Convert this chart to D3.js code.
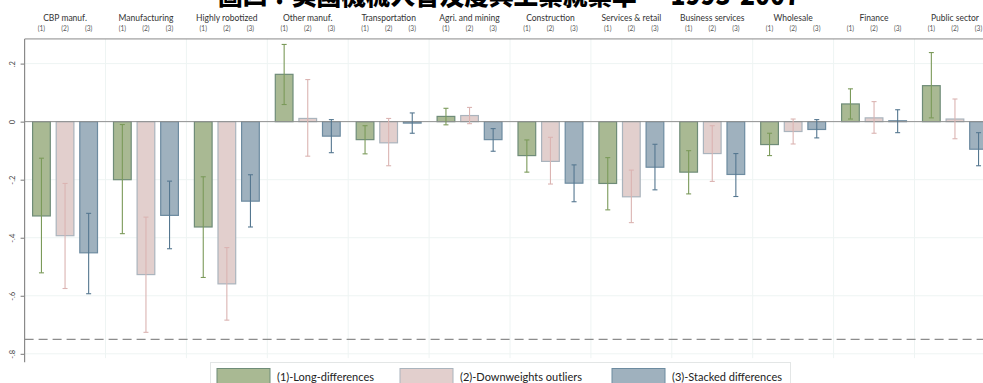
<!DOCTYPE html>
<html>
<head>
<meta charset="utf-8">
<script src="https://cdn.jsdelivr.net/npm/d3@7/dist/d3.min.js"></script>
<style>
  html, body { margin: 0; padding: 0; background: #fff; overflow: hidden; }
  svg { display: block; }
</style>
</head>
<body>
<script>
// Sector groups and the three estimators
const groups = ["CBP manuf.", "Manufacturing", "Highly robotized", "Other manuf.", "Transportation",
  "Agri. and mining", "Construction", "Services & retail", "Business services", "Wholesale",
  "Finance", "Public sector"];
const seriesNames = ["(1)-Long-differences", "(2)-Downweights outliers", "(3)-Stacked differences"];
const seriesShort = ["(1)", "(2)", "(3)"];

// Point estimates and confidence bounds per series
const est1 = [-0.325, -0.200, -0.363, 0.163, -0.062, 0.018, -0.117, -0.213, -0.174, -0.079, 0.061, 0.124];
const lo1  = [-0.521, -0.386, -0.537, 0.059, -0.111, -0.011, -0.174, -0.304, -0.249, -0.117, 0.009, 0.013];
const hi1  = [-0.126, -0.010, -0.190, 0.266, -0.014, 0.046, -0.063, -0.124, -0.100, -0.040, 0.113, 0.238];

const est2 = [-0.393, -0.527, -0.559, 0.011, -0.073, 0.021, -0.137, -0.259, -0.110, -0.034, 0.013, 0.009];
const lo2  = [-0.575, -0.726, -0.684, -0.119, -0.152, -0.007, -0.215, -0.348, -0.206, -0.077, -0.040, -0.059];
const hi2  = [-0.213, -0.329, -0.434, 0.145, 0.011, 0.049, -0.054, -0.167, -0.014, 0.009, 0.069, 0.078];

const est3 = [-0.452, -0.323, -0.274, -0.050, -0.005, -0.062, -0.212, -0.157, -0.182, -0.027, 0.003, -0.095];
const lo3  = [-0.593, -0.438, -0.363, -0.107, -0.040, -0.102, -0.276, -0.235, -0.258, -0.056, -0.038, -0.152];
const hi3  = [-0.316, -0.205, -0.183, 0.007, 0.030, -0.024, -0.149, -0.078, -0.110, 0.007, 0.041, -0.038];

const yTicks = [0.2, 0, -0.2, -0.4, -0.6, -0.8];
const yTickLabels = [".2", "0", "-.2", "-.4", "-.6", "-.8"];
const refLine = -0.75;
const titleText = "圖四：美國機械人普及度與工業就業率 — 1993-2007";

const W = 983, H = 383;
const fills   = ["#a9b993", "#e2cfcd", "#9fb1be"];
const strokes = ["#6f8c78", "#aab4bd", "#6d8ba0"];
const errCols = ["#7b9a5a", "#dbb4b2", "#557790"];

const series = [
  {est: est1, lo: lo1, hi: hi1},
  {est: est2, lo: lo2, hi: hi2},
  {est: est3, lo: lo3, hi: hi3}
];

const svg = d3.select("body").append("svg").attr("width", W).attr("height", H);

// Scales
const y = d3.scaleLinear().domain([-0.8, 0.2]).range([353.8, 63.6]);
const plotTop = y(0.285), plotBottom = y(-0.815);
const x = d3.scaleBand().domain(groups).range([24.6, 995.4]).paddingInner(0).paddingOuter(0);
const sub = d3.scaleBand().domain([0, 1, 2]).range([8, x.bandwidth() - 8]).paddingInner(0.25).paddingOuter(0);
const axisX = 24.6;
const font = "Lato, 'DejaVu Sans', sans-serif";

// Horizontal grid
svg.append("g").selectAll("line").data(yTicks).join("line")
  .attr("x1", axisX).attr("x2", W)
  .attr("y1", d => y(d)).attr("y2", d => y(d))
  .attr("stroke", "#eef4f3").attr("stroke-width", 1);

// Vertical separators between groups
svg.append("g").selectAll("line").data(groups.slice(1)).join("line")
  .attr("x1", d => x(d)).attr("x2", d => x(d))
  .attr("y1", plotTop).attr("y2", plotBottom)
  .attr("stroke", "#eef4f3").attr("stroke-width", 1);

// Top frame line
svg.append("line").attr("x1", axisX).attr("x2", W).attr("y1", plotTop).attr("y2", plotTop)
  .attr("stroke", "#8a8a8a").attr("stroke-width", 1);

// Reference line
svg.append("line").attr("x1", axisX).attr("x2", W).attr("y1", y(refLine)).attr("y2", y(refLine))
  .attr("stroke", "#8c8c8c").attr("stroke-width", 1.3).attr("stroke-dasharray", "9,5");

// Bars
series.forEach((s, k) => {
  const g = svg.append("g");
  g.selectAll("rect").data(groups).join("rect")
    .attr("x", d => x(d) + sub(k))
    .attr("width", sub.bandwidth())
    .attr("y", (d, i) => Math.min(y(s.est[i]), y(0)))
    .attr("height", (d, i) => Math.abs(y(s.est[i]) - y(0)))
    .attr("fill", fills[k]).attr("stroke", strokes[k]).attr("stroke-width", 1.2);
});

// Zero line
svg.append("line").attr("x1", axisX).attr("x2", W).attr("y1", y(0)).attr("y2", y(0))
  .attr("stroke", "#909090").attr("stroke-width", 1);

// Error bars
series.forEach((s, k) => {
  const g = svg.append("g").attr("stroke", errCols[k]).attr("stroke-width", 1.1);
  const cx = d => x(d) + sub(k) + sub.bandwidth() / 2;
  g.selectAll("line.v").data(groups).join("line").attr("class", "v")
    .attr("x1", cx).attr("x2", cx)
    .attr("y1", (d, i) => y(s.lo[i])).attr("y2", (d, i) => y(s.hi[i]));
  ["lo", "hi"].forEach(key => {
    g.selectAll("line." + key).data(groups).join("line").attr("class", key)
      .attr("x1", d => cx(d) - 2.5).attr("x2", d => cx(d) + 2.5)
      .attr("y1", (d, i) => y(s[key][i])).attr("y2", (d, i) => y(s[key][i]));
  });
});

// Y axis
const yAxis = d3.axisLeft(y).tickValues(yTicks).tickSize(4)
  .tickFormat((d, i) => yTickLabels[i]);
const ya = svg.append("g").attr("transform", `translate(${axisX},0)`).call(yAxis);
ya.select(".domain").remove();
ya.selectAll(".tick line").attr("stroke", "#777");
ya.selectAll(".tick text")
  .attr("transform", "rotate(-90)")
  .attr("x", 0).attr("y", -10).attr("dy", "0")
  .attr("text-anchor", "middle")
  .style("font-family", font).style("font-size", "7.5px").attr("fill", "#444");
svg.append("line").attr("x1", axisX).attr("x2", axisX).attr("y1", plotTop).attr("y2", plotBottom + 4)
  .attr("stroke", "#8a8a8a").attr("stroke-width", 1.2);

// Group labels and series markers on top
svg.append("g").selectAll("text").data(groups).join("text")
  .attr("x", d => x(d) + x.bandwidth() / 2).attr("y", 20.5)
  .attr("text-anchor", "middle")
  .style("font-family", font).style("font-size", "8.5px").attr("fill", "#333")
  .text(d => d);
groups.forEach(gname => {
  svg.append("g").selectAll("text").data(seriesShort).join("text")
    .attr("x", (d, k) => x(gname) + sub(k) + sub.bandwidth() / 2).attr("y", 30.5)
    .attr("text-anchor", "middle")
    .style("font-family", font).style("font-size", "6.6px").attr("fill", "#555")
    .text(d => d);
});

// Title (runs past the top edge)
svg.append("text").attr("x", 218).attr("y", 5)
  .attr("textLength", 582).attr("lengthAdjust", "spacingAndGlyphs")
  .style("font-family", "'Noto Sans CJK TC', sans-serif").style("font-weight", "900")
  .style("font-size", "26px").attr("fill", "#000")
  .text(titleText);

// Legend
const legend = svg.append("g");
legend.append("rect").attr("x", 210.5).attr("y", 362.5).attr("width", 580).attr("height", 30)
  .attr("fill", "#fff").attr("stroke", "#e3e6e6");
const legX = [217, 400, 612];
seriesNames.forEach((name, k) => {
  legend.append("rect").attr("x", legX[k]).attr("y", 368.5).attr("width", 53).attr("height", 20)
    .attr("fill", fills[k]).attr("stroke", strokes[k]).attr("stroke-width", 1);
  legend.append("text").attr("x", legX[k] + 60).attr("y", 381)
    .style("font-family", font).style("font-size", "11px").attr("fill", "#222")
    .text(name);
});
</script>
</body>
</html>
